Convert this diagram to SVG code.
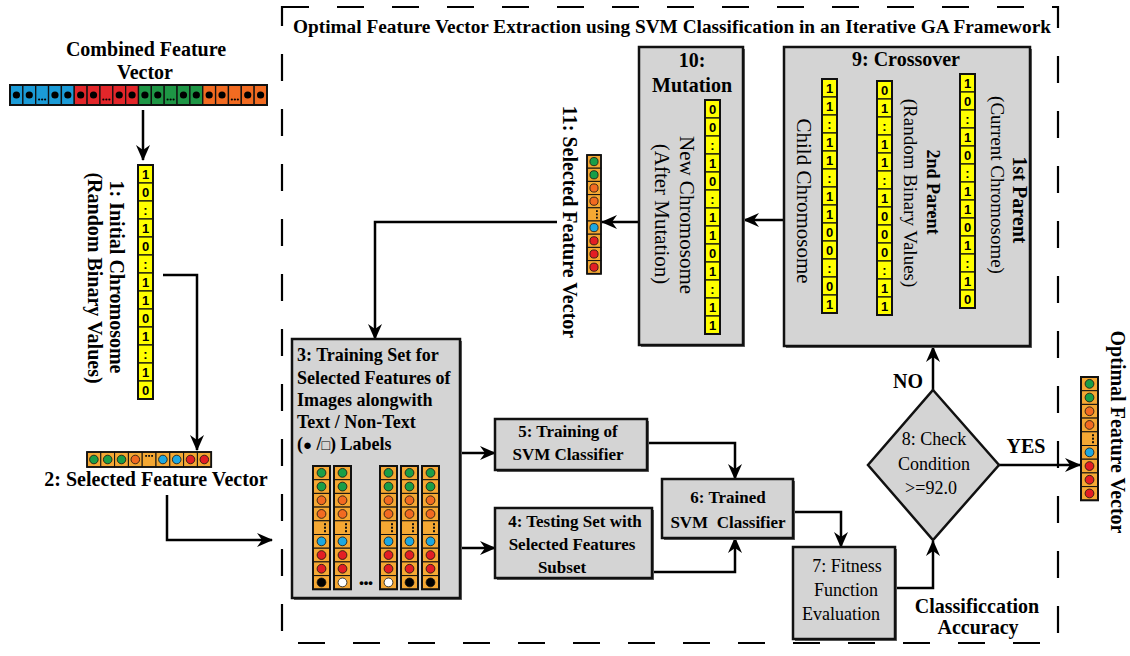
<svg xmlns="http://www.w3.org/2000/svg" width="1130" height="656" viewBox="0 0 1130 656">
<style>
.t{font-family:"Liberation Serif","Times New Roman",serif;fill:#000}
.b{font-weight:bold}
.m{text-anchor:middle}
.bit{font-family:"Liberation Sans",Arial,sans-serif;font-weight:bold;font-size:13px;text-anchor:middle;fill:#000}
.box{fill:#d4d4d4;stroke:#111;stroke-width:2.5}
.sh{fill:#6a6a6a}
.yc{fill:#ffff00;stroke:#111;stroke-width:1.2}
.oc{fill:#f5a833;stroke:#111;stroke-width:1}
.ci{stroke:#111;stroke-width:0.8}
.ln{fill:none;stroke:#000;stroke-width:2.5;marker-end:url(#ah)}
.frame{fill:none;stroke:#000;stroke-width:2.2;stroke-dasharray:27 28}
</style>
<defs>
<marker id="ah" viewBox="0 0 16 16" markerWidth="16" markerHeight="16" refX="15" refY="8" orient="auto" markerUnits="userSpaceOnUse"><path d="M0,1 L16,8 L0,15 L5,8 Z" fill="#000"/></marker>
<g id="cd"><rect width="12.85" height="20" stroke="#111" stroke-width="1.3"/><circle cx="6.42" cy="10" r="3.6" fill="#000"/></g>
<g id="cdd"><rect width="12.85" height="20" stroke="#111" stroke-width="1.3"/><circle cx="3.4" cy="14.5" r="1.1" fill="#000"/><circle cx="6.42" cy="14.5" r="1.1" fill="#000"/><circle cx="9.4" cy="14.5" r="1.1" fill="#000"/></g>
<g id="ystack">
<rect class="yc" width="15" height="18"/><rect class="yc" y="18" width="15" height="18"/><rect class="yc" y="36" width="15" height="18"/><rect class="yc" y="54" width="15" height="18"/><rect class="yc" y="72" width="15" height="18"/><rect class="yc" y="90" width="15" height="18"/><rect class="yc" y="108" width="15" height="18"/><rect class="yc" y="126" width="15" height="18"/><rect class="yc" y="144" width="15" height="18"/><rect class="yc" y="162" width="15" height="18"/><rect class="yc" y="180" width="15" height="18"/><rect class="yc" y="198" width="15" height="18"/><rect class="yc" y="216" width="15" height="18"/>
<rect width="15" height="234" fill="none" stroke="#111" stroke-width="2"/>
</g>
<g id="vc"><rect class="oc" width="14" height="13.2"/><circle class="ci" cx="7" cy="6.6" r="4.1"/></g>
<g id="vd"><rect class="oc" width="14" height="13.2"/><rect x="9" y="2.4" width="1.8" height="1.8" fill="#111"/><rect x="9" y="5.7" width="1.8" height="1.8" fill="#111"/><rect x="9" y="9" width="1.8" height="1.8" fill="#111"/></g>
<g id="bc"><rect class="oc" width="17" height="13.7"/><circle class="ci" cx="8.5" cy="6.85" r="4.4"/></g>
<g id="bd"><rect class="oc" width="17" height="13.7"/><rect x="11" y="2.4" width="2" height="2" fill="#111"/><rect x="11" y="5.9" width="2" height="2" fill="#111"/><rect x="11" y="9.4" width="2" height="2" fill="#111"/></g>
<g id="hc"><rect class="oc" width="13.8" height="15"/><circle class="ci" cx="6.9" cy="7.5" r="4.3"/></g>
<g id="hd"><rect class="oc" width="13.8" height="15"/><rect x="3" y="3" width="1.8" height="1.8" fill="#111"/><rect x="6" y="3" width="1.8" height="1.8" fill="#111"/><rect x="9" y="3" width="1.8" height="1.8" fill="#111"/></g>
<g id="col">
<use href="#bc" fill="#1a9e48"/><use href="#bc" y="13.7" fill="#1a9e48"/><use href="#bc" y="27.4" fill="#f26a21"/><use href="#bc" y="41.1" fill="#f26a21"/><use href="#bd" y="54.8"/><use href="#bc" y="68.5" fill="#1ea8e0"/><use href="#bc" y="82.2" fill="#e31e24"/><use href="#bc" y="95.9" fill="#e31e24"/>
</g>
</defs>

<rect width="1130" height="656" fill="#fff"/>

<g id="framework">
<rect class="frame" x="282" y="7" width="776" height="636"/>
<text class="t b m" x="672" y="33" font-size="18" textLength="758" lengthAdjust="spacingAndGlyphs">Optimal Feature Vector Extraction using SVM Classification in an Iterative GA Framework</text>
</g>

<g id="connectors">
<path class="ln" d="M143,110 V160"/>
<path class="ln" d="M163,275 H197 V450"/>
<path class="ln" d="M167,495 V540 H272"/>
<path class="ln" d="M557,222 H375 V339"/>
<path class="ln" d="M460,453 H495"/>
<path class="ln" d="M460,548 H495"/>
<path class="ln" d="M647,443 H735 V479"/>
<path class="ln" d="M652,572 H735 V538"/>
<path class="ln" d="M793,512 H841 V547"/>
<path class="ln" d="M895,588 H933 V541"/>
<path class="ln" d="M933,390 V347"/>
<path class="ln" d="M999,465 H1080"/>
<path class="ln" d="M784,220 H744"/>
<path class="ln" d="M639,222 H602"/>
<path class="ln" d="M873,216 H838"/>
</g>

<g id="combined-vector">
<text class="t b m" x="146" y="56" font-size="20">Combined Feature</text>
<text class="t b m" x="145" y="79" font-size="20">Vector</text>
<use href="#cd" x="10" y="85" fill="#1b9bd7"/><use href="#cd" x="22.85" y="85" fill="#1b9bd7"/><use href="#cdd" x="35.7" y="85" fill="#1b9bd7"/><use href="#cd" x="48.55" y="85" fill="#1b9bd7"/><use href="#cd" x="61.4" y="85" fill="#1b9bd7"/>
<use href="#cd" x="74.25" y="85" fill="#e3262a"/><use href="#cd" x="87.1" y="85" fill="#e3262a"/><use href="#cdd" x="99.95" y="85" fill="#e3262a"/><use href="#cd" x="112.8" y="85" fill="#e3262a"/><use href="#cd" x="125.65" y="85" fill="#e3262a"/>
<use href="#cd" x="138.5" y="85" fill="#1e9645"/><use href="#cd" x="151.35" y="85" fill="#1e9645"/><use href="#cdd" x="164.2" y="85" fill="#1e9645"/><use href="#cd" x="177.05" y="85" fill="#1e9645"/><use href="#cd" x="189.9" y="85" fill="#1e9645"/>
<use href="#cd" x="202.75" y="85" fill="#f26b21"/><use href="#cd" x="215.6" y="85" fill="#f26b21"/><use href="#cdd" x="228.45" y="85" fill="#f26b21"/><use href="#cd" x="241.3" y="85" fill="#f26b21"/><use href="#cd" x="254.15" y="85" fill="#f26b21"/>
<rect x="10" y="85" width="257" height="20" fill="none" stroke="#111" stroke-width="2"/>
</g>

<g id="node1-initial-chromosome">
<g transform="translate(138,165)">
<use href="#ystack"/>
<text class="bit"><tspan x="7.5" y="13.5">1</tspan><tspan x="7.5" y="31.5">0</tspan><tspan x="7.5" y="49.5">:</tspan><tspan x="7.5" y="67.5">1</tspan><tspan x="7.5" y="85.5">0</tspan><tspan x="7.5" y="103.5">:</tspan><tspan x="7.5" y="121.5">1</tspan><tspan x="7.5" y="139.5">1</tspan><tspan x="7.5" y="157.5">0</tspan><tspan x="7.5" y="175.5">1</tspan><tspan x="7.5" y="193.5">:</tspan><tspan x="7.5" y="211.5">1</tspan><tspan x="7.5" y="229.5">0</tspan></text>
</g>
<text class="t b m" font-size="20" transform="translate(117,277) rotate(90)" y="6.6">1: Initial Chromosome</text>
<text class="t b m" font-size="20" transform="translate(95,278) rotate(90)" y="6.6">(Random Binary Values)</text>
</g>

<g id="node2-selected-vector">
<g transform="translate(87,452)">
<use href="#hc" fill="#1a9e48"/><use href="#hc" x="13.8" fill="#1a9e48"/><use href="#hc" x="27.6" fill="#1a9e48"/><use href="#hc" x="41.4" fill="#f26a21"/><use href="#hd" x="55.2"/><use href="#hc" x="69" fill="#1ea8e0"/><use href="#hc" x="82.8" fill="#1ea8e0"/><use href="#hc" x="96.6" fill="#e31e24"/><use href="#hc" x="110.4" fill="#e31e24"/>
<rect width="124.2" height="15" fill="none" stroke="#111" stroke-width="1.8"/>
</g>
<text class="t b m" x="156" y="486" font-size="20">2: Selected Feature Vector</text>
</g>

<g id="node3-training-set">
<rect class="sh" x="294" y="341" width="168" height="259"/>
<rect class="box" x="292" y="339" width="168" height="259"/>
<text class="t b" font-size="18" x="297" y="361">3: Training Set for</text>
<text class="t b" font-size="18" x="297" y="384">Selected Features of</text>
<text class="t b" font-size="18" x="297" y="406">Images alongwith</text>
<text class="t b" font-size="18" x="297" y="428">Text / Non-Text</text>
<text class="t b" font-size="18" x="297" y="450">(<tspan font-size="15">●</tspan> /<tspan font-size="14" font-weight="normal">□</tspan>) Labels</text>
<g transform="translate(313,466)"><use href="#col"/><use href="#bc" y="109.6" fill="#000"/><rect width="17" height="123.3" fill="none" stroke="#111" stroke-width="2"/></g>
<g transform="translate(334,466)"><use href="#col"/><use href="#bc" y="109.6" fill="#fff"/><rect width="17" height="123.3" fill="none" stroke="#111" stroke-width="2"/></g>
<g transform="translate(380,466)"><use href="#col"/><use href="#bc" y="109.6" fill="#fff"/><rect width="17" height="123.3" fill="none" stroke="#111" stroke-width="2"/></g>
<g transform="translate(401,466)"><use href="#col"/><use href="#bc" y="109.6" fill="#000"/><rect width="17" height="123.3" fill="none" stroke="#111" stroke-width="2"/></g>
<g transform="translate(422,466)"><use href="#col"/><use href="#bc" y="109.6" fill="#000"/><rect width="17" height="123.3" fill="none" stroke="#111" stroke-width="2"/></g>
<text class="m" x="366" y="587" font-family="Liberation Sans, Arial, sans-serif" font-weight="bold" font-size="13">•••</text>
</g>

<g id="node5-training-svm">
<rect class="sh" x="497" y="421" width="152" height="51"/>
<rect class="box" x="495" y="419" width="152" height="51"/>
<text class="t b m" font-size="17" x="568" y="437">5: Training of</text>
<text class="t b m" font-size="17" x="568" y="460">SVM Classifier</text>
</g>

<g id="node4-testing-set">
<rect class="sh" x="497" y="510" width="157" height="70"/>
<rect class="box" x="495" y="508" width="157" height="70"/>
<text class="t b m" font-size="17" x="575" y="527">4: Testing Set with</text>
<text class="t b m" font-size="17" x="572" y="550">Selected Features</text>
<text class="t b m" font-size="17" x="562" y="573">Subset</text>
</g>

<g id="node6-trained-svm">
<rect class="sh" x="664" y="481" width="131" height="59"/>
<rect class="box" x="662" y="479" width="131" height="59"/>
<text class="t b m" font-size="17" x="728" y="503">6: Trained</text>
<text class="t b m" font-size="17" x="728" y="528" xml:space="preserve">SVM  Classifier</text>
</g>

<g id="node7-fitness">
<rect class="sh" x="795" y="549" width="102" height="92"/>
<rect class="box" x="793" y="547" width="102" height="92"/>
<text class="t m" font-size="18" x="847" y="572">7: Fitness</text>
<text class="t m" font-size="18" x="846" y="596">Function</text>
<text class="t m" font-size="18" x="841" y="620">Evaluation</text>
</g>
<g id="label-accuracy">
<text class="t b m" font-size="20" x="977" y="613">Classificcation</text>
<text class="t b m" font-size="20" x="978" y="634">Accuracy</text>
</g>

<g id="node8-check">
<polygon class="box" points="933,390 999,465 933,540 868,465"/>
<text class="t m" font-size="18" x="934" y="445">8: Check</text>
<text class="t m" font-size="18" x="934" y="470">Condition</text>
<text class="t m" font-size="18" x="931" y="494">&gt;=92.0</text>
</g>
<text class="t b m" font-size="20" x="908" y="388">NO</text>
<text class="t b m" font-size="20" x="1026" y="453">YES</text>

<g id="node-optimal-vector">
<g transform="translate(1081,377)"><use href="#col"/><use href="#bc" y="109.6" fill="#e31e24"/><rect width="17" height="123.3" fill="none" stroke="#111" stroke-width="2"/></g>
<text class="t b m" font-size="20" transform="translate(1118,432) rotate(90)" y="6.6">Optimal Feature Vector</text>
</g>

<g id="node9-crossover">
<rect class="sh" x="786" y="49" width="246" height="299"/>
<rect class="box" x="784" y="47" width="246" height="299"/>
<text class="t b m" font-size="20" x="906" y="66">9: Crossover</text>
<g transform="translate(960,74)">
<use href="#ystack"/>
<text class="bit"><tspan x="7.5" y="13.5">1</tspan><tspan x="7.5" y="31.5">0</tspan><tspan x="7.5" y="49.5">:</tspan><tspan x="7.5" y="67.5">1</tspan><tspan x="7.5" y="85.5">0</tspan><tspan x="7.5" y="103.5">:</tspan><tspan x="7.5" y="121.5">1</tspan><tspan x="7.5" y="139.5">1</tspan><tspan x="7.5" y="157.5">0</tspan><tspan x="7.5" y="175.5">1</tspan><tspan x="7.5" y="193.5">:</tspan><tspan x="7.5" y="211.5">1</tspan><tspan x="7.5" y="229.5">0</tspan></text>
</g>
<text class="t b m" font-size="20" transform="translate(1020,200) rotate(90)" y="6.6">1st Parent</text>
<text class="t m" font-size="19" transform="translate(997,185) rotate(90)" y="6.3">(Current Chromosome)</text>
<g transform="translate(877,81)">
<use href="#ystack"/>
<text class="bit"><tspan x="7.5" y="13.5">0</tspan><tspan x="7.5" y="31.5">1</tspan><tspan x="7.5" y="49.5">:</tspan><tspan x="7.5" y="67.5">1</tspan><tspan x="7.5" y="85.5">1</tspan><tspan x="7.5" y="103.5">:</tspan><tspan x="7.5" y="121.5">1</tspan><tspan x="7.5" y="139.5">0</tspan><tspan x="7.5" y="157.5">0</tspan><tspan x="7.5" y="175.5">0</tspan><tspan x="7.5" y="193.5">:</tspan><tspan x="7.5" y="211.5">1</tspan><tspan x="7.5" y="229.5">1</tspan></text>
</g>
<text class="t b m" font-size="18" transform="translate(933,192) rotate(90)" y="6">2nd Parent</text>
<text class="t m" font-size="19" transform="translate(910,193) rotate(90)" y="6.3">(Random Binary Values)</text>
<g transform="translate(822,79)">
<use href="#ystack"/>
<text class="bit"><tspan x="7.5" y="13.5">1</tspan><tspan x="7.5" y="31.5">1</tspan><tspan x="7.5" y="49.5">:</tspan><tspan x="7.5" y="67.5">1</tspan><tspan x="7.5" y="85.5">1</tspan><tspan x="7.5" y="103.5">:</tspan><tspan x="7.5" y="121.5">1</tspan><tspan x="7.5" y="139.5">1</tspan><tspan x="7.5" y="157.5">0</tspan><tspan x="7.5" y="175.5">0</tspan><tspan x="7.5" y="193.5">:</tspan><tspan x="7.5" y="211.5">0</tspan><tspan x="7.5" y="229.5">1</tspan></text>
</g>
<text class="t m" font-size="21" transform="translate(804,201) rotate(90)" y="7">Child Chromosome</text>
</g>

<g id="node10-mutation">
<rect class="sh" x="641" y="49" width="104" height="298"/>
<rect class="box" x="639" y="47" width="104" height="298"/>
<text class="t b m" font-size="20" x="692" y="67">10:</text>
<text class="t b m" font-size="20" x="692" y="92">Mutation</text>
<g transform="translate(705,100)">
<use href="#ystack"/>
<text class="bit"><tspan x="7.5" y="13.5">0</tspan><tspan x="7.5" y="31.5">0</tspan><tspan x="7.5" y="49.5">:</tspan><tspan x="7.5" y="67.5">1</tspan><tspan x="7.5" y="85.5">0</tspan><tspan x="7.5" y="103.5">:</tspan><tspan x="7.5" y="121.5">1</tspan><tspan x="7.5" y="139.5">1</tspan><tspan x="7.5" y="157.5">0</tspan><tspan x="7.5" y="175.5">1</tspan><tspan x="7.5" y="193.5">:</tspan><tspan x="7.5" y="211.5">1</tspan><tspan x="7.5" y="229.5">1</tspan></text>
</g>
<text class="t m" font-size="21" transform="translate(687,215) rotate(90)" y="7">New Chromosome</text>
<text class="t m" font-size="21" transform="translate(662,214) rotate(90)" y="7">(After Mutation)</text>
</g>

<g id="node11-selected-vector">
<g transform="translate(587,155)">
<use href="#vc" fill="#1a9e48"/><use href="#vc" y="13.2" fill="#1a9e48"/><use href="#vc" y="26.4" fill="#f26a21"/><use href="#vc" y="39.6" fill="#f26a21"/><use href="#vd" y="52.8"/><use href="#vc" y="66" fill="#1ea8e0"/><use href="#vc" y="79.2" fill="#e31e24"/><use href="#vc" y="92.4" fill="#e31e24"/><use href="#vc" y="105.6" fill="#e31e24"/>
<rect width="14" height="118.8" fill="none" stroke="#111" stroke-width="1.8"/>
</g>
<text class="t b m" font-size="20" transform="translate(570,222) rotate(90)" y="6.6">11: Selected Feature Vector</text>
</g>
</svg>
